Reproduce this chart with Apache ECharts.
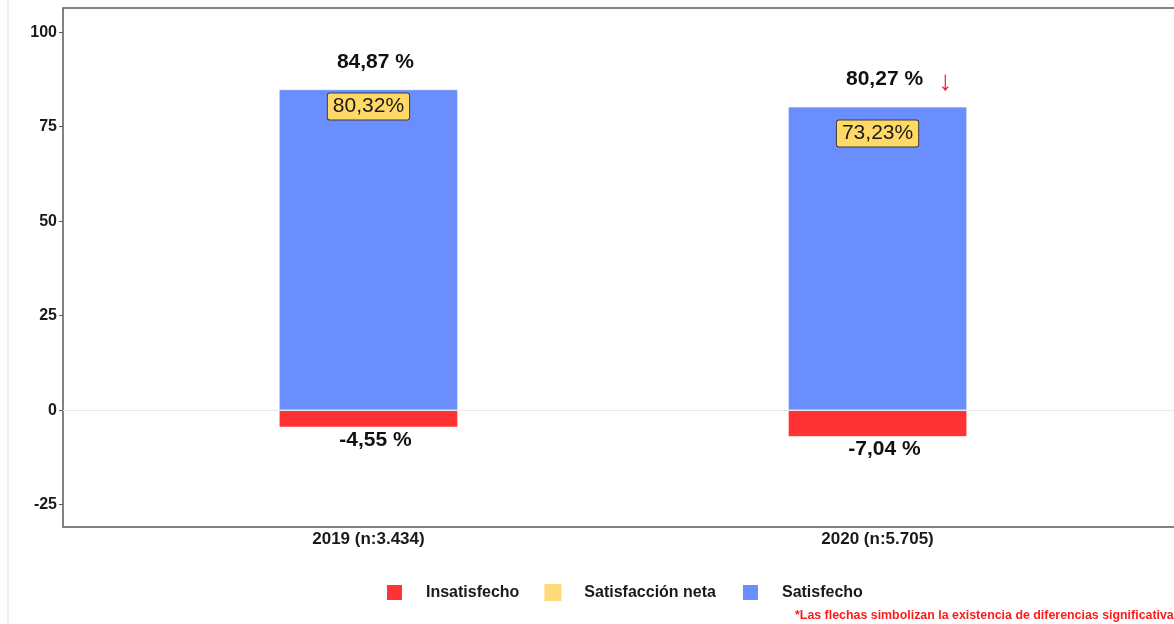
<!DOCTYPE html>
<html>
<head>
<meta charset="utf-8">
<script src="https://cdn.jsdelivr.net/npm/echarts@6/dist/echarts.min.js"></script>
<style>
  html, body { margin: 0; padding: 0; background: #fff; }
  #chart { width: 1174px; height: 624px; }
</style>
</head>
<body>
<div id="chart"></div>
<script>
// datos
let anios = ['2019 (n:3.434)', '2020 (n:5.705)']
let posiciones = [1, 2]
let satisfecho = [84.87, 80.27]
let insatisfecho = [-4.55, -7.04]
let satisfaccionNeta = [80.32, 73.23]
let flechas = [0, 1]   // 1 = diferencia significativa
let yTicks = [-25, 0, 25, 50, 75, 100]

let fuente = '"Liberation Sans", Arial, sans-serif'
let pct = v => v.toFixed(2).replace('.', ',')

let chart = echarts.init(document.getElementById('chart'))

let option = {
    animation: false,
    textStyle: { fontFamily: fuente },
    grid: {
        left: 63, top: 8, bottom: 97, width: 1120,
        outerBoundsMode: 'none',
        show: true,
        borderColor: '#5a5a5a',
        borderWidth: 1.5
    },
    legend: {
        bottom: 17,
        left: 380,
        icon: 'rect',
        itemWidth: 17,
        itemHeight: 17,
        itemGap: 25,
        data: ['Insatisfecho', 'Satisfacción neta', 'Satisfecho'],
        textStyle: { fontSize: 16, fontWeight: 'bold', color: '#1a1a1a', padding: [0, 0, 0, 18] }
    },
    xAxis: {
        type: 'value',
        min: 0.4,
        max: 2.6,
        splitLine: { show: false },
        axisLine: { show: false },
        axisTick: { show: false },
        axisLabel: {
            customValues: posiciones,
            formatter: v => anios[Math.round(v) - 1],
            fontSize: 17,
            fontWeight: 'bold',
            color: '#1a1a1a',
            margin: 4
        }
    },
    yAxis: {
        type: 'value',
        min: -30.9,
        max: 106.4,
        splitLine: { show: false },
        axisLine: { show: false },
        axisTick: { show: true, customValues: yTicks, length: 4, lineStyle: { color: '#5a5a5a' } },
        axisLabel: {
            customValues: yTicks,
            fontSize: 16,
            fontWeight: 'bold',
            color: '#1a1a1a',
            margin: 6
        }
    },
    graphic: [
        { type: 'rect', left: 7, top: 0, shape: { width: 2, height: 624 }, style: { fill: '#e6edf5' } },
        {
            type: 'text', left: 795, top: 610,
            style: {
                text: '*Las flechas simbolizan la existencia de diferencias significativas',
                fill: '#ff1a1a', font: 'bold 12.4px ' + fuente
            }
        }
    ],
    series: [
        {
            name: 'Satisfecho',
            type: 'bar',
            stack: 'total',
            barWidth: 179,
            data: posiciones.map((p, i) => [p, satisfecho[i]]),
            itemStyle: { color: '#6b8eff', borderColor: '#fff', borderWidth: 0.6 },
            label: {
                show: true,
                position: 'top',
                distance: 17,
                offset: [7, 0],
                formatter: p => pct(p.value[1]) + ' %',
                fontSize: 21,
                fontWeight: 'bold',
                color: '#111'
            }
        },
        {
            name: 'Insatisfecho',
            type: 'bar',
            stack: 'total',
            barWidth: 179,
            data: posiciones.map((p, i) => [p, insatisfecho[i]]),
            itemStyle: { color: '#ff3333', borderColor: '#fff', borderWidth: 0.6 },
            label: {
                show: true,
                position: 'bottom',
                distance: 2,
                offset: [7, 0],
                formatter: p => pct(p.value[1]) + ' %',
                fontSize: 21,
                fontWeight: 'bold',
                color: '#111'
            },
            markLine: {
                silent: true,
                symbol: 'none',
                label: { show: false },
                lineStyle: { color: '#e8e8e8', type: 'solid', width: 1 },
                data: [{ yAxis: 0 }]
            }
        },
        {
            name: 'Satisfacción neta',
            type: 'scatter',
            symbolSize: 0,
            z: 5,
            data: posiciones.map((p, i) => [p, satisfaccionNeta[i]]),
            itemStyle: { color: '#ffd97a', opacity: 1 },
            label: {
                show: true,
                position: 'inside',
                formatter: p => pct(p.value[1]) + '%',
                fontSize: 21,
                color: '#1a1a1a',
                backgroundColor: '#ffd966',
                borderColor: '#3a3a3a',
                borderWidth: 1,
                borderRadius: 2,
                padding: [3, 5, 2, 5]
            }
        },
        {
            name: 'flecha',
            type: 'scatter',
            symbolSize: 0,
            z: 5,
            data: posiciones.filter((p, i) => flechas[i]).map(p => [p, satisfecho[p - 1]]),
            itemStyle: { opacity: 1 },
            label: {
                show: true,
                position: 'inside',
                offset: [68, -24],
                formatter: '↓',
                fontSize: 28,
                color: '#e8203c'
            }
        }
    ]
}

chart.setOption(option)
</script>
</body>
</html>
